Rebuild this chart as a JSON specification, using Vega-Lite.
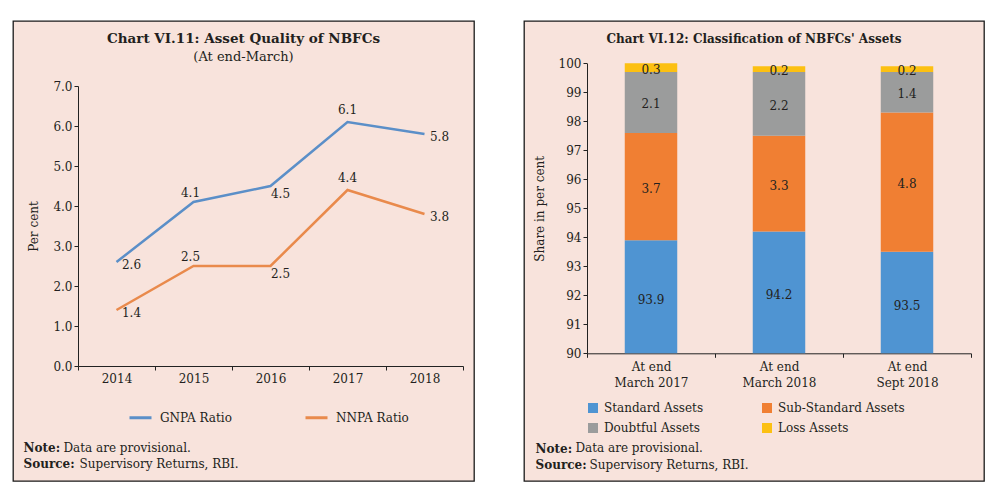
{
  "$schema": "https://vega.github.io/schema/vega-lite/v6.json",
  "background": "white",
  "padding": {"left": 12, "top": 20, "right": 0, "bottom": 0},
  "spacing": 48,
  "resolve": {"scale": {"color": "independent"}, "legend": {"color": "independent"}},
  "hconcat": [
    {
      "width": 461,
      "height": 460,
      "title": {
        "text": "Chart VI.11: Asset Quality of NBFCs",
        "subtitle": "(At end-March)",
        "offset": -43,
        "anchor": "middle",
        "fontSize": 13.5,
        "subtitleFontSize": 13,
        "subtitlePadding": 6
      },
      "data": {
        "values": [
          {"year": "2014", "series": "GNPA Ratio", "value": 2.6},
          {"year": "2015", "series": "GNPA Ratio", "value": 4.1},
          {"year": "2016", "series": "GNPA Ratio", "value": 4.5},
          {"year": "2017", "series": "GNPA Ratio", "value": 6.1},
          {"year": "2018", "series": "GNPA Ratio", "value": 5.8},
          {"year": "2014", "series": "NNPA Ratio", "value": 1.4},
          {"year": "2015", "series": "NNPA Ratio", "value": 2.5},
          {"year": "2016", "series": "NNPA Ratio", "value": 2.5},
          {"year": "2017", "series": "NNPA Ratio", "value": 4.4},
          {"year": "2018", "series": "NNPA Ratio", "value": 3.8}
        ]
      },
      "layer": [
        {
          "mark": {"type": "line", "strokeWidth": 2.5},
          "encoding": {
            "x": {
              "field": "year", "type": "ordinal",
              "scale": {"type": "band", "domain": ["2014", "2015", "2016", "2017", "2018"], "range": [65, 450], "paddingInner": 0, "paddingOuter": 0},
              "axis": {"orient": "bottom", "offset": -115, "tickBand": "extent", "labelAngle": 0, "labelPadding": 3,
                "title": "Data are provisional.", "titleX": 50, "titleY": 76, "titleAlign": "left", "titleAnchor": "start", "titleBaseline": "top"}
            },
            "y": {
              "field": "value", "type": "quantitative",
              "scale": {"domain": [0, 7], "range": [345, 65], "nice": false},
              "axis": {"orient": "left", "offset": -65, "values": [0, 1, 2, 3, 4, 5, 6, 7], "format": ".1f", "title": "Per cent", "titlePadding": 12}
            },
            "color": {
              "field": "series", "type": "nominal",
              "scale": {"domain": ["GNPA Ratio", "NNPA Ratio"], "range": ["#5b8fc8", "#e98a4c"]},
              "legend": {"orient": "none", "legendX": 115, "legendY": 384, "direction": "horizontal", "columns": 2, "columnPadding": 67, "title": null,
                "symbolType": "stroke", "symbolSize": 484, "symbolStrokeWidth": 3, "labelOffset": 7}
            }
          }
        },
        {
          "transform": [{"filter": "datum.year == '2014' || datum.year == '2018'"}],
          "mark": {"type": "text", "dx": 15, "dy": 3, "baseline": "middle"},
          "encoding": {
            "x": {
              "field": "year", "type": "ordinal",
              "scale": {"type": "band", "domain": ["2014", "2015", "2016", "2017", "2018"], "range": [65, 450], "paddingInner": 0, "paddingOuter": 0},
              "axis": {"orient": "top", "domain": false, "ticks": false, "labels": false,
                "title": "Supervisory Returns, RBI.", "titleX": 66, "titleY": 437, "titleAlign": "left", "titleAnchor": "start", "titleBaseline": "top"}
            },
            "y": {
              "field": "value", "type": "quantitative",
              "scale": {"domain": [0, 7], "range": [345, 65], "nice": false},
              "axis": {"orient": "right", "domain": false, "ticks": false, "labels": false,
                "title": ["Note:", "Source:"], "titleAngle": 0, "titleX": -451, "titleY": 421, "titleAlign": "left", "titleBaseline": "top", "titleFontWeight": "bold", "titleLineHeight": 16}
            },
            "text": {"field": "value", "type": "quantitative", "format": ".1f"}
          }
        },
        {
          "transform": [{"filter": "datum.year == '2015'"}],
          "mark": {"type": "text", "dx": -3, "dy": -9, "baseline": "middle"},
          "encoding": {
            "x": {"field": "year", "type": "ordinal", "scale": {"type": "band", "domain": ["2014", "2015", "2016", "2017", "2018"], "range": [65, 450], "paddingInner": 0, "paddingOuter": 0}, "axis": null},
            "y": {"field": "value", "type": "quantitative", "scale": {"domain": [0, 7], "range": [345, 65], "nice": false}, "axis": null},
            "text": {"field": "value", "type": "quantitative", "format": ".1f"}
          }
        },
        {
          "transform": [{"filter": "datum.year == '2017'"}],
          "mark": {"type": "text", "dx": 0, "dy": -12, "baseline": "middle"},
          "encoding": {
            "x": {"field": "year", "type": "ordinal", "scale": {"type": "band", "domain": ["2014", "2015", "2016", "2017", "2018"], "range": [65, 450], "paddingInner": 0, "paddingOuter": 0}, "axis": null},
            "y": {"field": "value", "type": "quantitative", "scale": {"domain": [0, 7], "range": [345, 65], "nice": false}, "axis": null},
            "text": {"field": "value", "type": "quantitative", "format": ".1f"}
          }
        },
        {
          "transform": [{"filter": "datum.year == '2016'"}],
          "mark": {"type": "text", "dx": 10, "dy": 8, "baseline": "middle"},
          "encoding": {
            "x": {"field": "year", "type": "ordinal", "scale": {"type": "band", "domain": ["2014", "2015", "2016", "2017", "2018"], "range": [65, 450], "paddingInner": 0, "paddingOuter": 0}, "axis": null},
            "y": {"field": "value", "type": "quantitative", "scale": {"domain": [0, 7], "range": [345, 65], "nice": false}, "axis": null},
            "text": {"field": "value", "type": "quantitative", "format": ".1f"}
          }
        }
      ],
      "resolve": {"scale": {"x": "independent", "y": "independent"}, "axis": {"x": "independent", "y": "independent"}}
    },
    {
      "width": 460,
      "height": 460,
      "title": {
        "text": "Chart VI.12: Classification of NBFCs' Assets",
        "offset": -25,
        "anchor": "middle",
        "fontSize": 12
      },
      "data": {
        "values": [
          {"period": "At end March 2017", "category": "Standard Assets", "value": 93.9},
          {"period": "At end March 2017", "category": "Sub-Standard Assets", "value": 3.7},
          {"period": "At end March 2017", "category": "Doubtful Assets", "value": 2.1},
          {"period": "At end March 2017", "category": "Loss Assets", "value": 0.3},
          {"period": "At end March 2018", "category": "Standard Assets", "value": 94.2},
          {"period": "At end March 2018", "category": "Sub-Standard Assets", "value": 3.3},
          {"period": "At end March 2018", "category": "Doubtful Assets", "value": 2.2},
          {"period": "At end March 2018", "category": "Loss Assets", "value": 0.2},
          {"period": "At end Sept 2018", "category": "Standard Assets", "value": 93.5},
          {"period": "At end Sept 2018", "category": "Sub-Standard Assets", "value": 4.8},
          {"period": "At end Sept 2018", "category": "Doubtful Assets", "value": 1.4},
          {"period": "At end Sept 2018", "category": "Loss Assets", "value": 0.2}
        ]
      },
      "transform": [{"stack": "value", "groupby": ["period"], "as": ["y0", "y1"]}],
      "layer": [
        {
          "mark": {"type": "bar", "width": {"band": 0.41}},
          "encoding": {
            "x": {
              "field": "period", "type": "nominal",
              "scale": {"type": "band", "domain": ["At end March 2017", "At end March 2018", "At end Sept 2018"], "range": [63, 447], "paddingInner": 0, "paddingOuter": 0},
              "axis": {"orient": "bottom", "offset": -127.7, "tickBand": "extent", "labelAngle": 0, "labelPadding": 4,
                "labelExpr": "[slice(datum.label, 0, 6), slice(datum.label, 7)]", "labelLineHeight": 16, "labelBaseline": "top",
                "title": "Data are provisional.", "titleX": 51, "titleY": 89, "titleAlign": "left", "titleAnchor": "start", "titleBaseline": "top"}
            },
            "y": {
              "field": "y0", "type": "quantitative",
              "scale": {"domain": [90, 100], "range": [332.3, 42.3], "nice": false, "zero": false, "clamp": true},
              "axis": {"orient": "left", "offset": -63, "values": [90, 91, 92, 93, 94, 95, 96, 97, 98, 99, 100], "title": "Share in per cent", "titlePadding": 12}
            },
            "y2": {"field": "y1"},
            "color": {
              "field": "category", "type": "nominal",
              "scale": {"domain": ["Standard Assets", "Sub-Standard Assets", "Doubtful Assets", "Loss Assets"], "range": ["#4f94d2", "#f07f33", "#9b9c9c", "#fcc012"]},
              "legend": {"orient": "none", "legendX": 63, "legendY": 381, "direction": "horizontal", "columns": 2, "columnPadding": 57, "rowPadding": 8, "title": null,
                "symbolType": "square", "symbolSize": 100, "labelOffset": 5}
            }
          }
        },
        {
          "mark": {"type": "text", "baseline": "middle", "dy": 2},
          "encoding": {
            "x": {
              "field": "period", "type": "nominal",
              "scale": {"type": "band", "domain": ["At end March 2017", "At end March 2018", "At end Sept 2018"], "range": [63, 447], "paddingInner": 0, "paddingOuter": 0},
              "axis": {"orient": "top", "domain": false, "ticks": false, "labels": false,
                "title": "Supervisory Returns, RBI.", "titleX": 65, "titleY": 438, "titleAlign": "left", "titleAnchor": "start", "titleBaseline": "top"}
            },
            "y": {
              "field": "value", "type": "quantitative", "stack": "zero", "bandPosition": 0.5,
              "scale": {"domain": [90, 100], "range": [332.3, 42.3], "nice": false, "zero": false, "clamp": true},
              "axis": {"orient": "right", "domain": false, "ticks": false, "labels": false,
                "title": ["Note:", "Source:"], "titleAngle": 0, "titleX": -449, "titleY": 422, "titleAlign": "left", "titleBaseline": "top", "titleFontWeight": "bold", "titleLineHeight": 16}
            },
            "detail": {"field": "category", "type": "nominal"},
            "order": {"field": "y0", "type": "quantitative"},
            "text": {
              "condition": {"test": "datum.category == 'Standard Assets'", "value": ""},
              "field": "value", "type": "quantitative", "format": ".1f"
            }
          }
        },
        {
          "transform": [{"filter": "datum.category == 'Standard Assets'"}],
          "mark": {"type": "text", "baseline": "middle", "dy": 3},
          "encoding": {
            "x": {"field": "period", "type": "nominal", "scale": {"type": "band", "domain": ["At end March 2017", "At end March 2018", "At end Sept 2018"], "range": [63, 447], "paddingInner": 0, "paddingOuter": 0}, "axis": null},
            "y": {"field": "y1", "type": "quantitative", "scale": {"domain": [90, 110], "range": [332.3, 42.3], "nice": false, "zero": false}, "axis": null},
            "text": {"field": "value", "type": "quantitative", "format": ".1f"}
          }
        }
      ],
      "resolve": {"scale": {"x": "independent", "y": "independent"}, "axis": {"x": "independent", "y": "independent"}}
    }
  ],
  "config": {
    "font": "DejaVu Serif",
    "view": {"fill": "#f8e3dc", "stroke": "#1a1a1a", "strokeWidth": 1.3},
    "axis": {"domainColor": "#222222", "tickColor": "#222222", "labelColor": "#231f20", "titleColor": "#231f20", "labelFontSize": 12, "titleFontSize": 12, "titleFontWeight": "normal", "tickSize": 4, "grid": false, "labelOverlap": false, "labelFont": "DejaVu Serif", "titleFont": "DejaVu Serif"},
    "legend": {"labelFont": "DejaVu Serif", "labelFontSize": 12, "labelColor": "#231f20", "padding": 0},
    "title": {"font": "DejaVu Serif", "subtitleFont": "DejaVu Serif", "fontWeight": "bold", "color": "#231f20", "subtitleColor": "#231f20"},
    "text": {"font": "DejaVu Serif", "fontSize": 12, "color": "#231f20"}
  }
}
